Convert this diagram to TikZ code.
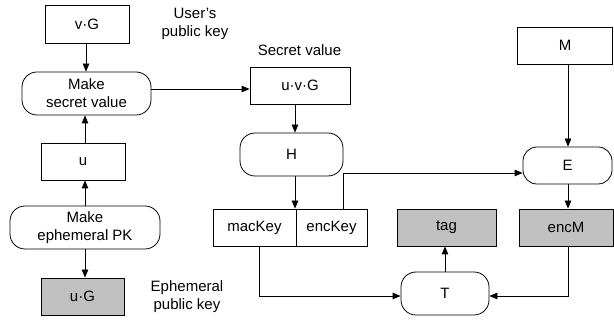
\documentclass[tikz,border=0pt]{standalone}
\usepackage{fontspec}
\setmainfont{Liberation Sans}
\usetikzlibrary{arrows.meta,calc}
\begin{document}
\begin{tikzpicture}[x=1pt,y=-1pt,
  every node/.style={font=\fontsize{15}{18}\selectfont, inner sep=0pt, align=center},
  box/.style={draw, line width=0.8pt, rectangle},
  pill/.style={draw, line width=0.8pt, rectangle, rounded corners=15pt},
  grey/.style={fill=boxgrey},
  conn/.style={line width=0.8pt, -{Triangle[length=8pt,width=6.5pt]}},
  lbl/.style={}]
\definecolor{boxgrey}{RGB}{192,192,192}
\useasboundingbox[fill=white] (0,0) rectangle (614,320);
% left column
\node[box, minimum width=84pt, minimum height=38pt] (vG) at (87,24) {v·G};
\node[pill, minimum width=129pt, minimum height=43pt] (msv) at (86.5,93.5) {Make\\secret value};
\node[box, minimum width=84pt, minimum height=37pt] (u) at (83,161.5) {u};
\node[pill, minimum width=150pt, minimum height=43pt] (mepk) at (85,227.5) {Make\\ephemeral PK};
\node[box, grey, minimum width=83pt, minimum height=37pt] (uG) at (82.5,296.5) {u·G};
\node[lbl] (ulbl) at (195,24) {User's\\public key};
\node[lbl] (elbl) at (187,296.5) {Ephemeral\\public key};
% middle
\node[lbl] (slbl) at (299.5,50) {Secret value};
\node[box, minimum width=100pt, minimum height=37pt] (uvG) at (300,85.5) {u·v·G};
\node[pill, minimum width=103pt, minimum height=43pt] (H) at (291.5,154.5) {H};
\node[box, minimum width=83pt, minimum height=37pt] (mac) at (254.5,227.5) {macKey};
\node[box, minimum width=71pt, minimum height=37pt] (enc) at (331.5,227.5) {encKey};
\node[box, grey, minimum width=99pt, minimum height=37pt] (tag) at (446.5,227.5) {tag};
\node[pill, minimum width=88pt, minimum height=43pt] (T) at (445,293.5) {T};
% right
\node[box, minimum width=95pt, minimum height=37pt] (M) at (565,45.5) {M};
\node[pill, minimum width=89pt, minimum height=37pt, rounded corners=14pt] (E) at (567.5,165.5) {E};
\node[box, grey, minimum width=94pt, minimum height=37pt] (encM) at (566,227.5) {encM};
% connectors
\draw[conn] (vG.south -| 86,0) -- (msv.north -| 86,0);
\draw[conn] (u.north -| 85,0) -- (msv.south -| 85,0);
\draw[conn] (mepk.north -| 85,0) -- (u.south -| 85,0);
\draw[conn] (mepk.south -| 85,0) -- (uG.north -| 85,0);
\draw[conn] (msv.east |- 0,89) -- (uvG.west |- 0,89);
\draw[conn] (uvG.south -| 295,0) -- (H.north -| 295,0);
\draw[conn] (H.south -| 295,0) -- (mac.north -| 295,0);
\draw[conn] (enc.north -| 343,0) |- (E.west |- 0,173);
\draw[conn] (M.south -| 568,0) -- (E.north -| 568,0);
\draw[conn] (E.south -| 568,0) -- (encM.north -| 568,0);
\draw[conn] (encM.south -| 568,0) |- (T.east |- 0,296);
\draw[conn] (mac.south -| 259,0) |- (T.west |- 0,296);
\draw[conn] (T.north -| 445,0) -- (tag.south -| 445,0);
\end{tikzpicture}
\end{document}
